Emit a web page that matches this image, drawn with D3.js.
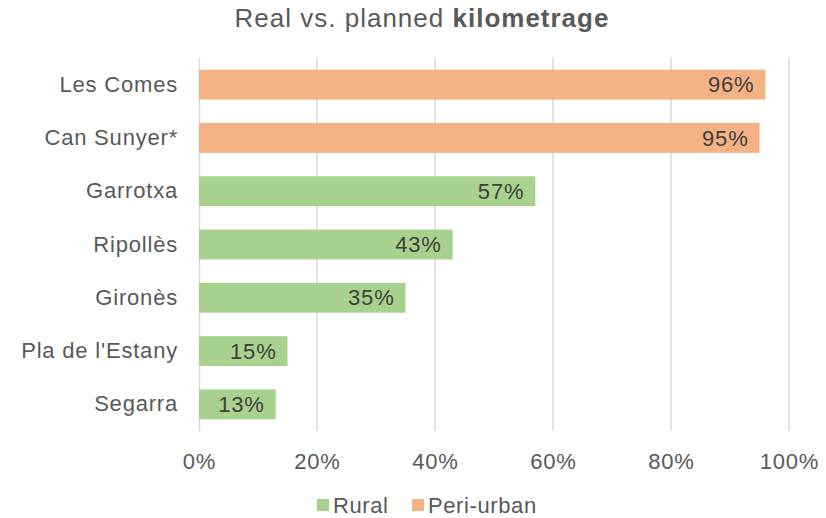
<!DOCTYPE html>
<html>
<head>
<meta charset="utf-8">
<script src="https://cdn.jsdelivr.net/npm/d3@7"></script>
<style>
  body { margin: 0; background: #fff; }
  text { font-family: "Liberation Sans", Arial, sans-serif; }
</style>
</head>
<body>
<div id="chart"></div>
<script>
// chart data
const categories = ['Les Comes', 'Can Sunyer*', 'Garrotxa', 'Ripollès', 'Gironès', "Pla de l'Estany", 'Segarra'];
const values = [96, 95, 57, 43, 35, 15, 13];
const groups = ['Peri-urban', 'Peri-urban', 'Rural', 'Rural', 'Rural', 'Rural', 'Rural'];
const seriesNames = ['Rural', 'Peri-urban'];
const seriesColors = ['#A9D18E', '#F4B183'];
const xTicks = [0, 20, 40, 60, 80, 100];

const W = 826, H = 518;
const margin = { top: 58, right: 37, bottom: 87, left: 199 };
const width = W - margin.left - margin.right;
const height = H - margin.top - margin.bottom;
const FONT = '"Liberation Sans", Arial, sans-serif';

const svg = d3.select('#chart').append('svg')
  .attr('width', W)
  .attr('height', H);

// title
const title = svg.append('text')
  .attr('x', 422)
  .attr('y', 27)
  .attr('text-anchor', 'middle')
  .attr('font-size', 26)
  .attr('letter-spacing', 1)
  .attr('fill', '#595959');
title.append('tspan').text('Real vs. planned ');
title.append('tspan').attr('font-weight', 'bold').text('kilometrage');

const g = svg.append('g')
  .attr('transform', `translate(${margin.left},${margin.top})`);

const x = d3.scaleLinear().domain([0, 100]).range([0, width]);
const y = d3.scaleBand().domain(categories).range([0, height]).paddingInner(0.44).paddingOuter(0.22);
const color = d3.scaleOrdinal().domain(seriesNames).range(seriesColors);

// gridlines
g.selectAll('.grid')
  .data(xTicks.slice(1))
  .enter().append('line')
  .attr('x1', d => x(d)).attr('x2', d => x(d))
  .attr('y1', 0).attr('y2', height)
  .attr('stroke', '#d9d9d9')
  .attr('stroke-width', 1.5);

// x axis labels
const xAxis = g.append('g')
  .attr('transform', `translate(0,${height})`)
  .call(d3.axisBottom(x).tickValues(xTicks).tickFormat(d => d + '%').tickSize(0).tickPadding(22));
xAxis.select('.domain').remove();
xAxis.selectAll('text')
  .attr('font-size', 22)
  .attr('letter-spacing', 0.8)
  .attr('fill', '#595959')
  .style('font-family', FONT);

// y axis
const yAxis = g.append('g')
  .call(d3.axisLeft(y).tickSize(0).tickPadding(21));
yAxis.select('.domain')
  .attr('stroke', '#d9d9d9')
  .attr('stroke-width', 1.5);
yAxis.selectAll('text')
  .attr('font-size', 22)
  .attr('letter-spacing', 0.8)
  .attr('fill', '#595959')
  .style('font-family', FONT);

// bars
g.selectAll('.bar')
  .data(categories)
  .enter().append('rect')
  .attr('x', 0)
  .attr('y', d => y(d))
  .attr('width', (d, i) => x(values[i]))
  .attr('height', y.bandwidth())
  .attr('fill', (d, i) => color(groups[i]));

// value labels
g.selectAll('.val')
  .data(categories)
  .enter().append('text')
  .attr('x', (d, i) => x(values[i]) - 11)
  .attr('y', d => y(d) + y.bandwidth() / 2)
  .attr('dy', '0.35em')
  .attr('text-anchor', 'end')
  .attr('font-size', 22)
  .attr('letter-spacing', 0.8)
  .attr('fill', '#404040')
  .text((d, i) => values[i] + '%');

// legend
const legend = svg.append('g').attr('transform', 'translate(317,505)');
const legendX = [0, 95];
seriesNames.forEach((name, i) => {
  const item = legend.append('g').attr('transform', `translate(${legendX[i]},0)`);
  item.append('rect')
    .attr('x', 0).attr('y', -6)
    .attr('width', 12).attr('height', 12)
    .attr('fill', seriesColors[i]);
  item.append('text')
    .attr('x', 16)
    .attr('dy', '0.35em')
    .attr('font-size', 22)
    .attr('letter-spacing', 0.6)
    .attr('fill', '#595959')
    .text(name);
});
</script>
</body>
</html>
